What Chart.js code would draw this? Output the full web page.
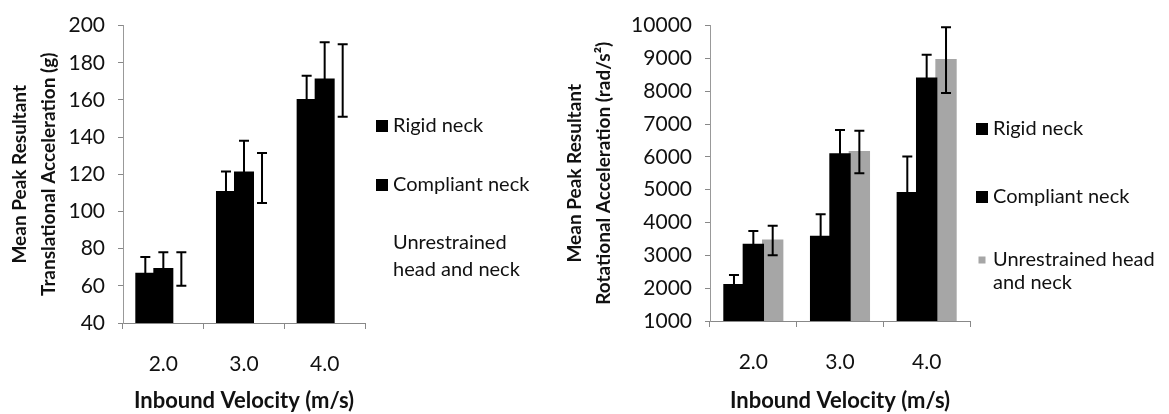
<!DOCTYPE html>
<html>
<head>
<meta charset="utf-8">
<script src="https://cdn.jsdelivr.net/npm/chart.js@4.4.0/dist/chart.umd.min.js"></script>
<style>
  body { margin: 0; background: #fff; }
  canvas { position: absolute; top: 0; }
</style>
</head>
<body>
<canvas id="transChart" width="560" height="414" style="left:0"></canvas>
<canvas id="rotChart" width="609" height="414" style="left:560px"></canvas>
<script>
const velocities = ['2.0', '3.0', '4.0'];
const seriesNames = ['Rigid neck', 'Compliant neck', 'Unrestrained head and neck'];

// translational acceleration (g), means and error bar half-lengths
const transRigid = [66.5, 110.5, 160];
const transRigidErr = [9, 11, 13];
const transCompliant = [69, 121, 171];
const transCompliantErr = [9, 17, 20];
const transUnrestrained = [69, 118, 170.5];
const transUnrestrainedErr = [9, 13.5, 19.5];
const transAxis = { min: 40, max: 200, step: 20 };

// rotational acceleration (rad/s^2)
const rotRigid = [2100, 3570, 4900];
const rotRigidErr = [300, 680, 1110];
const rotCompliant = [3320, 6080, 8390];
const rotCompliantErr = [420, 740, 720];
const rotUnrestrained = [3450, 6150, 8950];
const rotUnrestrainedErr = [450, 650, 1000];
const rotAxis = { min: 1000, max: 10000, step: 1000 };

// legend text, wrapped as in the figure
const transLegendLines = [['Rigid neck'], ['Compliant neck'], ['Unrestrained', 'head and neck']];
const rotLegendLines = [['Rigid neck'], ['Compliant neck'], ['Unrestrained head', 'and neck']];

const FONT = 'Lato, "Open Sans", sans-serif';

// draws the +/- error bars on top of each bar
const errorBars = {
  id: 'errorBars',
  afterDatasetsDraw(chart) {
    const ctx = chart.ctx;
    const yScale = chart.scales.y;
    chart.data.datasets.forEach((ds, i) => {
      chart.getDatasetMeta(i).data.forEach((bar, j) => {
        const top = yScale.getPixelForValue(ds.data[j] + ds.errors[j]);
        const bot = yScale.getPixelForValue(ds.data[j] - ds.errors[j]);
        ctx.save();
        ctx.strokeStyle = '#000';
        ctx.lineWidth = 2;
        ctx.beginPath();
        ctx.moveTo(bar.x, top); ctx.lineTo(bar.x, bot);
        ctx.moveTo(bar.x - 5, top); ctx.lineTo(bar.x + 5, top);
        ctx.moveTo(bar.x - 5, bot); ctx.lineTo(bar.x + 5, bot);
        ctx.stroke();
        ctx.restore();
      });
    });
  }
};

// legend on the right, spaced out like the original
const sideLegend = {
  id: 'sideLegend',
  afterDraw(chart, args, opts) {
    const ctx = chart.ctx;
    ctx.save();
    ctx.font = '20px ' + FONT;
    ctx.textBaseline = 'middle';
    chart.data.datasets.forEach((ds, i) => {
      const y = opts.rows[i];
      const s = opts.boxSizes[i];
      if (s > 0) {
        ctx.fillStyle = ds.backgroundColor;
        ctx.fillRect(opts.x + (12 - s) / 2, y - s / 2, s, s);
      }
      ctx.fillStyle = '#111';
      opts.lines[i].forEach((t, k) => ctx.fillText(t, opts.x + 17, y + k * opts.lineGap));
    });
    ctx.restore();
  }
};

function makeChart(id, series, errs, colors, axis, yTitle, legendOpts, layout) {
  const datasets = series.map((d, i) => ({
    label: seriesNames[i],
    data: d,
    errors: errs[i],
    backgroundColor: colors[i],
    borderWidth: 0,
    inflateAmount: 1,
    categoryPercentage: 0.67,
    barPercentage: 1.0
  }));
  return new Chart(document.getElementById(id), {
    type: 'bar',
    data: { labels: velocities, datasets: datasets },
    options: {
      responsive: false,
      animation: false,
      devicePixelRatio: 1,
      layout: { padding: { left: 0, top: layout.top, right: layout.right, bottom: 0 } },
      plugins: {
        legend: { display: false },
        tooltip: { enabled: false },
        sideLegend: legendOpts
      },
      scales: {
        x: {
          grid: { drawOnChartArea: false, tickLength: 6, color: '#888' },
          border: { color: '#888' },
          ticks: { font: { family: FONT, size: 21 }, color: '#111', padding: 23 },
          title: {
            display: true,
            text: 'Inbound Velocity (m/s)',
            font: { family: FONT, size: 22, weight: 'bold' },
            color: '#111',
            padding: 0
          },
          afterFit: (s) => { s.height = layout.xHeight; }
        },
        y: {
          min: axis.min,
          max: axis.max,
          grid: { drawOnChartArea: false, tickLength: 5, color: '#888' },
          border: { color: '#999', dash: [3, 3] },
          ticks: {
            stepSize: axis.step,
            font: { family: FONT, size: 21 },
            color: '#111',
            padding: 13,
            callback: (v) => String(v)
          },
          title: {
            display: true,
            text: yTitle,
            font: { family: FONT, size: 19, weight: 'bold', lineHeight: 1.5 },
            color: '#111',
            padding: { top: layout.titlePad, bottom: 0 }
          },
          afterFit: (s) => { s.width = layout.yWidth; }
        }
      }
    },
    plugins: [errorBars, sideLegend]
  });
}

makeChart('transChart',
  [transRigid, transCompliant, transUnrestrained],
  [transRigidErr, transCompliantErr, transUnrestrainedErr],
  ['#000000', '#000000', '#ffffff'],
  transAxis,
  ['Mean Peak Resultant', 'Translational Acceleration (g)'],
  { x: 376, rows: [126, 185, 243], lineGap: 27, lines: transLegendLines, boxSizes: [12, 12, 0] },
  { top: 24, right: 195, xHeight: 91, yWidth: 123, titlePad: 6 });

makeChart('rotChart',
  [rotRigid, rotCompliant, rotUnrestrained],
  [rotRigidErr, rotCompliantErr, rotUnrestrainedErr],
  ['#000000', '#000000', '#a6a6a6'],
  rotAxis,
  ['Mean Peak Resultant', 'Rotational Acceleration (rad/s²)'],
  { x: 416, rows: [129, 197, 260], lineGap: 23, lines: rotLegendLines, boxSizes: [12, 12, 7] },
  { top: 25, right: 199, xHeight: 93, yWidth: 150, titlePad: 1 });
</script>
</body>
</html>
